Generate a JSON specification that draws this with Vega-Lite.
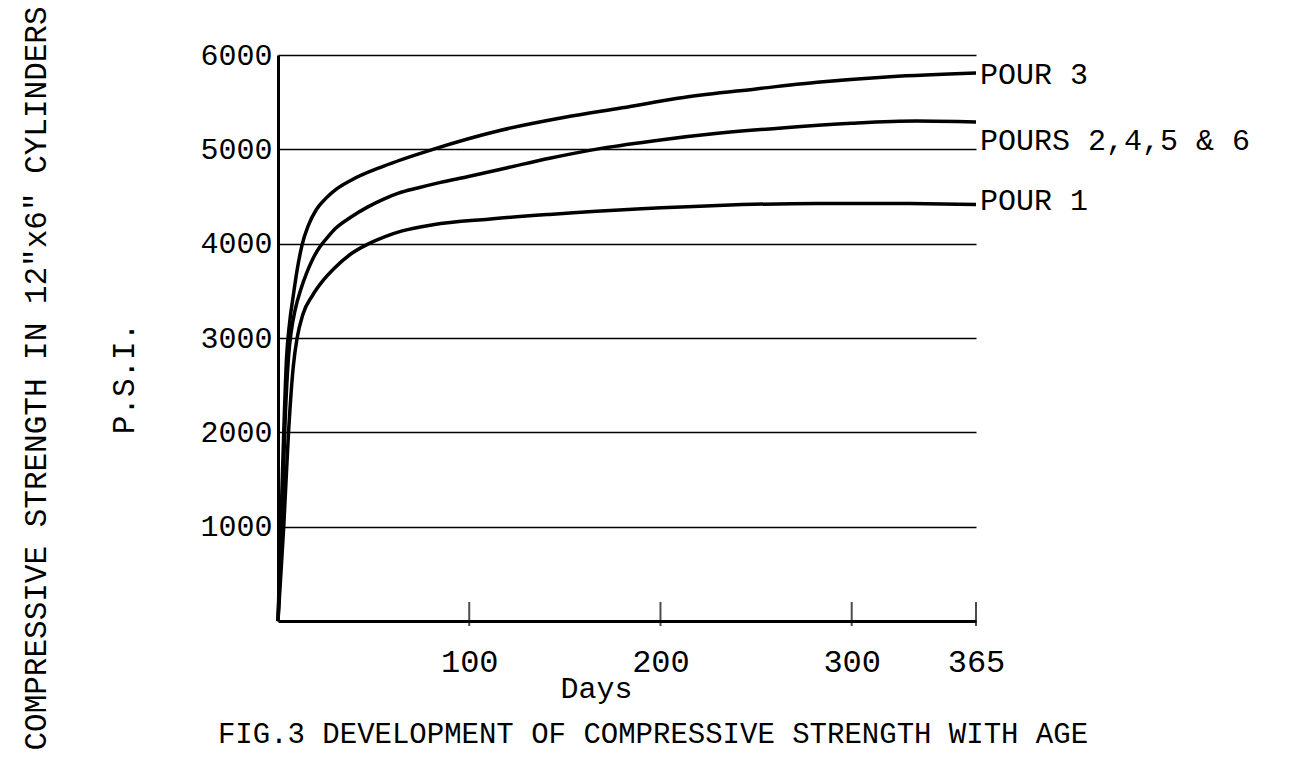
{
  "$schema": "https://vega.github.io/schema/vega-lite/v6.json",
  "width": 698,
  "height": 566,
  "autosize": "none",
  "padding": {"left": 278, "top": 55, "right": 322, "bottom": 139},
  "background": "white",
  "config": {
    "view": {"stroke": null},
    "font": "Liberation Mono",
    "axis": {"labelColor": "black", "titleColor": "black", "domainColor": "black", "labelFont": "Liberation Mono", "titleFont": "Liberation Mono", "titleFontWeight": "normal"}
  },
  "title": {
    "text": "FIG.3 DEVELOPMENT OF COMPRESSIVE STRENGTH WITH AGE",
    "orient": "bottom",
    "anchor": "middle",
    "font": "Liberation Mono",
    "fontSize": 29,
    "fontWeight": "normal",
    "color": "black",
    "offset": -30,
    "dx": 26
  },
  "datasets": {
    "curves": [
      {"pour": "POUR 3", "day": 0, "psi": 0},
      {"pour": "POUR 3", "day": 1.5, "psi": 1000},
      {"pour": "POUR 3", "day": 3, "psi": 2000},
      {"pour": "POUR 3", "day": 4.5, "psi": 2800},
      {"pour": "POUR 3", "day": 6, "psi": 3150},
      {"pour": "POUR 3", "day": 8, "psi": 3450},
      {"pour": "POUR 3", "day": 10, "psi": 3720},
      {"pour": "POUR 3", "day": 12.5, "psi": 3980},
      {"pour": "POUR 3", "day": 16, "psi": 4200},
      {"pour": "POUR 3", "day": 20, "psi": 4360},
      {"pour": "POUR 3", "day": 25, "psi": 4480},
      {"pour": "POUR 3", "day": 30, "psi": 4570},
      {"pour": "POUR 3", "day": 38, "psi": 4670},
      {"pour": "POUR 3", "day": 55, "psi": 4820},
      {"pour": "POUR 3", "day": 81, "psi": 5000},
      {"pour": "POUR 3", "day": 116, "psi": 5200},
      {"pour": "POUR 3", "day": 150, "psi": 5340},
      {"pour": "POUR 3", "day": 180, "psi": 5440},
      {"pour": "POUR 3", "day": 212, "psi": 5550},
      {"pour": "POUR 3", "day": 250, "psi": 5640},
      {"pour": "POUR 3", "day": 282, "psi": 5710},
      {"pour": "POUR 3", "day": 320, "psi": 5770},
      {"pour": "POUR 3", "day": 365, "psi": 5810},
      {"pour": "POURS 2,4,5 & 6", "day": 0, "psi": 0},
      {"pour": "POURS 2,4,5 & 6", "day": 2, "psi": 1000},
      {"pour": "POURS 2,4,5 & 6", "day": 3.5, "psi": 2000},
      {"pour": "POURS 2,4,5 & 6", "day": 5.5, "psi": 2800},
      {"pour": "POURS 2,4,5 & 6", "day": 7, "psi": 3080},
      {"pour": "POURS 2,4,5 & 6", "day": 9, "psi": 3300},
      {"pour": "POURS 2,4,5 & 6", "day": 12, "psi": 3520},
      {"pour": "POURS 2,4,5 & 6", "day": 15, "psi": 3690},
      {"pour": "POURS 2,4,5 & 6", "day": 18, "psi": 3830},
      {"pour": "POURS 2,4,5 & 6", "day": 22, "psi": 3970},
      {"pour": "POURS 2,4,5 & 6", "day": 26, "psi": 4070},
      {"pour": "POURS 2,4,5 & 6", "day": 30, "psi": 4160},
      {"pour": "POURS 2,4,5 & 6", "day": 38, "psi": 4280},
      {"pour": "POURS 2,4,5 & 6", "day": 47, "psi": 4390},
      {"pour": "POURS 2,4,5 & 6", "day": 55, "psi": 4470},
      {"pour": "POURS 2,4,5 & 6", "day": 63, "psi": 4535},
      {"pour": "POURS 2,4,5 & 6", "day": 73, "psi": 4590},
      {"pour": "POURS 2,4,5 & 6", "day": 85, "psi": 4650},
      {"pour": "POURS 2,4,5 & 6", "day": 99, "psi": 4710},
      {"pour": "POURS 2,4,5 & 6", "day": 120, "psi": 4805},
      {"pour": "POURS 2,4,5 & 6", "day": 142, "psi": 4905},
      {"pour": "POURS 2,4,5 & 6", "day": 169, "psi": 5010},
      {"pour": "POURS 2,4,5 & 6", "day": 200, "psi": 5100},
      {"pour": "POURS 2,4,5 & 6", "day": 230, "psi": 5170},
      {"pour": "POURS 2,4,5 & 6", "day": 265, "psi": 5230},
      {"pour": "POURS 2,4,5 & 6", "day": 300, "psi": 5276},
      {"pour": "POURS 2,4,5 & 6", "day": 334, "psi": 5300},
      {"pour": "POURS 2,4,5 & 6", "day": 365, "psi": 5290},
      {"pour": "POUR 1", "day": 0, "psi": 0},
      {"pour": "POUR 1", "day": 3, "psi": 1000},
      {"pour": "POUR 1", "day": 5.5, "psi": 2000},
      {"pour": "POUR 1", "day": 8, "psi": 2700},
      {"pour": "POUR 1", "day": 10, "psi": 3000},
      {"pour": "POUR 1", "day": 13, "psi": 3250},
      {"pour": "POUR 1", "day": 18, "psi": 3450},
      {"pour": "POUR 1", "day": 23.6, "psi": 3610},
      {"pour": "POUR 1", "day": 30, "psi": 3750},
      {"pour": "POUR 1", "day": 37.7, "psi": 3885},
      {"pour": "POUR 1", "day": 47, "psi": 3995},
      {"pour": "POUR 1", "day": 56, "psi": 4075},
      {"pour": "POUR 1", "day": 65, "psi": 4135},
      {"pour": "POUR 1", "day": 81, "psi": 4200},
      {"pour": "POUR 1", "day": 110, "psi": 4260},
      {"pour": "POUR 1", "day": 142, "psi": 4310},
      {"pour": "POUR 1", "day": 190, "psi": 4370},
      {"pour": "POUR 1", "day": 230, "psi": 4405},
      {"pour": "POUR 1", "day": 282, "psi": 4427},
      {"pour": "POUR 1", "day": 330, "psi": 4425},
      {"pour": "POUR 1", "day": 365, "psi": 4416}
    ],
    "labels": [
      {"label": "POUR 3", "day": 365, "psi": 5790},
      {"label": "POURS 2,4,5 & 6", "day": 365, "psi": 5090},
      {"label": "POUR 1", "day": 365, "psi": 4450}
    ],
    "xticks": [
      {"day": 100},
      {"day": 200},
      {"day": 300},
      {"day": 365}
    ]
  },
  "layer": [
    {
      "data": {"name": "curves"},
      "mark": {"type": "line", "color": "black", "strokeWidth": 3.5, "interpolate": "monotone"},
      "encoding": {
        "x": {
          "field": "day", "type": "quantitative",
          "scale": {"domain": [0, 365], "nice": false, "zero": true},
          "axis": {
            "values": [100, 200, 300, 365],
            "grid": false,
            "ticks": false,
            "domainWidth": 3,
            "labelFontSize": 32,
            "labelPadding": 25,
            "labelFlush": false,
            "title": "Days",
            "titleFontSize": 30,
            "titleX": 318,
            "titleY": 76,
            "titleAlign": "center",
            "titleBaseline": "alphabetic"
          }
        },
        "y": {
          "field": "psi", "type": "quantitative",
          "scale": {"domain": [0, 6000], "nice": false},
          "axis": {
            "values": [1000, 2000, 3000, 4000, 5000, 6000],
            "format": "d",
            "grid": true,
            "gridColor": "black",
            "gridWidth": 1.3,
            "gridOpacity": 1,
            "ticks": false,
            "domainWidth": 3,
            "labelFontSize": 30,
            "labelPadding": 6,
            "labelFlush": false,
            "title": ["COMPRESSIVE STRENGTH IN 12\"x6\" CYLINDERS", "P.S.I.\u00a0\u00a0\u00a0"],
            "titleFontSize": 31,
            "titleLineHeight": 88,
            "titleAngle": -90,
            "titleX": -257,
            "titleY": 323,
            "titleAlign": "center",
            "titleBaseline": "top"
          }
        },
        "detail": {"field": "pour", "type": "nominal"}
      }
    },
    {
      "data": {"name": "xticks"},
      "mark": {"type": "tick", "orient": "vertical", "color": "black", "thickness": 2, "size": 24, "yOffset": -7},
      "encoding": {
        "x": {"field": "day", "type": "quantitative"},
        "y": {"datum": 0}
      }
    },
    {
      "data": {"name": "labels"},
      "mark": {"type": "text", "align": "left", "baseline": "middle", "dx": 4, "font": "Liberation Mono", "fontSize": 30, "color": "black"},
      "encoding": {
        "x": {"field": "day", "type": "quantitative"},
        "y": {"field": "psi", "type": "quantitative"},
        "text": {"field": "label"}
      }
    }
  ]
}
